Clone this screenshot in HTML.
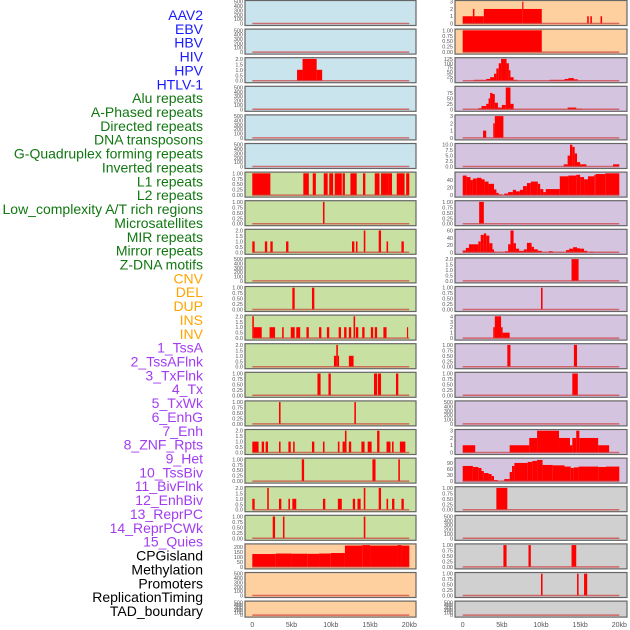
<!DOCTYPE html>
<html><head><meta charset="utf-8"><style>
body{margin:0;background:#fff;}
svg{display:block;font-family:"Liberation Sans",sans-serif;}
</style></head><body>
<svg id="c" width="630" height="630" xmlns="http://www.w3.org/2000/svg"></svg>
<script>
const labels=["AAV2","EBV","HBV","HIV","HPV","HTLV-1","Alu repeats","A-Phased repeats","Directed repeats","DNA transposons","G-Quadruplex forming repeats","Inverted repeats","L1 repeats","L2 repeats","Low_complexity A/T rich regions","Microsatellites","MIR repeats","Mirror repeats","Z-DNA motifs","CNV","DEL","DUP","INS","INV","1_TssA","2_TssAFlnk","3_TxFlnk","4_Tx","5_TxWk","6_EnhG","7_Enh","8_ZNF_Rpts","9_Het","10_TssBiv","11_BivFlnk","12_EnhBiv","13_ReprPC","14_ReprPCWk","15_Quies","CPGisland","Methylation","Promoters","ReplicationTiming","TAD_boundary"];
const labelGroups=[6,13,5,15,5];
const groupColors=["#1a1aff","#117711","#ffa500","#a23cf0","#000000"];
const xTicks=[0,5,10,15,20];
const xTickLabels=["0","5kb","10kb","15kb","20kb"];
const T500=["0","100","200","300","400","500"], TB=["0.00","0.25","0.50","0.75","1.00"], T2=["0.0","0.5","1.0","1.5","2.0"];
const B="#c9e4ec", G="#c8e0a2", O="#fecf9f", P="#d5c4e0", Y="#d0d0d0";
const leftBg=[B,B,B,B,B,B,G,G,G,G,G,G,G,G,G,G,G,G,G,O,O,O];
const rightBg=[O,O,P,P,P,P,P,P,P,P,P,P,P,P,P,P,P,Y,Y,Y,Y,Y];
const leftTicks=[T500,T500,T2,T500,T500,T500,TB,TB,T2,T500,TB,T2,T2,TB,TB,T2,TB,T2,TB,["0","50","100","150","200"],T500,T500];
const leftMax=[500,500,2,500,500,500,1,1,2,500,1,2,2,1,1,2,1,2,1,220,500,500];
const leftBars=[[],[],[[5.7,6.4,1],[6.4,8.2,2],[8.2,8.9,1]],[],[],[],
[[0,2.3,1],[6.5,7.2,1],[7.7,8.1,1],[9.1,9.6,1],[9.8,10.3,1],[10.5,11.4,1],[11.5,11.8,1],[12.5,13.3,1],[14.1,14.4,1],[15.6,16.2,1],[16.4,17.3,1],[17.3,17.8,1],[18.4,19.4,1],[19.6,20,1]],
[[9.0,9.2,1]],
[[0,0.3,1],[1.6,1.9,1],[2.3,2.6,1],[4.3,4.6,1],[12.7,13,1],[13.2,13.4,1],[14.2,14.4,2],[16.1,16.4,2],[17.1,17.3,1],[19.0,19.3,1]],
[],
[[5.1,5.4,1],[7.6,7.9,1]],
[[0,0.2,2],[0.2,1.2,1],[2.2,2.9,1],[3.8,4,1],[4.9,5.4,1],[5.6,6.1,1],[6.9,7.2,1],[8.5,8.8,1],[9.5,9.8,1],[11,11.3,1],[11.7,12,1],[12.3,12.6,1],[12.9,13.1,2],[13.2,13.5,1],[14,14.3,1],[15.1,15.4,1],[15.6,15.9,1],[16.7,17.1,1],[19.7,19.8,1]],
[[10.4,10.7,1],[10.7,10.9,2],[10.9,11.0,1],[12.3,12.9,1]],
[[8.3,8.7,1],[9.7,10,1],[15.5,15.9,1],[16.0,16.4,1],[18.3,18.6,1]],
[[3.4,3.6,1],[13.0,13.2,1]],
[[0,0.8,1],[1.2,1.5,1],[1.7,2,1],[3.4,3.6,1],[4.6,4.9,1],[5.2,5.4,1],[7.6,7.9,1],[9.0,9.2,1],[10.9,11.1,1],[11.5,11.8,1],[11.8,12,2],[12.3,12.6,1],[13.9,14.3,1],[14.7,15.2,1],[15.9,16.2,2],[17.1,17.6,1],[17.8,18.0,1],[18.8,19.5,1]],
[[6.3,6.6,1],[15.3,15.7,1],[18.6,18.8,1]],
[[0,0.3,1],[1.9,2.1,2],[3.4,3.7,1],[4.6,4.8,1],[5.1,5.6,1],[9.0,9.3,1],[10.9,11.4,1],[12.8,13.1,1],[13.4,13.8,1],[14.2,14.4,2],[16.1,16.4,2],[17.1,17.3,1],[17.8,18.1,1],[19.0,19.3,1]],
[[2.6,2.9,1],[3.9,4.1,1],[14.2,14.4,1]],
[[0,3,130],[3,5,135],[5,7,133],[7,8.5,132],[8.5,10,135],[10,11.8,140],[11.8,14,215],[14,15,220],[15,18.5,215],[18.5,19,220],[19,20,215]],
[],[]];
const rightTicks=[["0","1","2","3"],TB,["0","25","50","75","100","125"],["0","25","50","75"],["0","1","2","3"],["0.0","2.5","5.0","7.5","10.0"],["0","20","40"],TB,["0","20","40","60"],T2,TB,["0","1","2","3","4"],TB,TB,T500,["0","1","2","3"],["0","30","60","90"],TB,T500,TB,TB,T500];
const rightMax=[3,1,125,100,3,10,58,1,60,2,1,4,1,1,500,3,108,1,500,1,1,500];
const rightBars=[
[[0,1.3,1],[1.3,1.5,2],[1.5,2.7,1],[2.7,7.6,2],[7.6,7.7,3],[7.7,10.1,2],[15.9,16.1,1],[16.3,16.5,1],[17.6,17.8,1]],
[[0,10.1,1]],
[[1.4,3,5],[3,3.5,10],[3.5,4,20],[4,4.3,40],[4.3,4.6,70],[4.6,4.9,100],[4.9,5.6,125],[5.6,5.9,100],[5.9,6.1,60],[6.1,6.5,20],[6.5,7,5],[11.1,13,5],[13,13.5,10],[13.5,14.2,15],[14.2,14.7,8]],
[[2,2.4,5],[2.4,3,15],[3,3.3,25],[3.3,3.5,50],[3.5,3.8,75],[3.8,4.1,70],[4.1,4.5,30],[4.5,5,8],[5,5.5,20],[5.5,6.1,100],[6.1,6.5,25],[13.4,14.5,8],[14.5,15.2,3]],
[[2.6,3.0,1],[3.9,4.1,2],[4.1,5.2,3]],
[[12.9,13.4,1],[13.4,13.7,5],[13.7,14,10],[14,14.3,9],[14.3,14.6,6],[14.6,15,2],[15,15.8,1],[19.2,20,1]],
[[0,0.5,52],[0.5,1,48],[1,1.3,40],[1.3,1.8,44],[1.8,2.4,46],[2.4,2.8,42],[2.8,3.3,36],[3.3,4,30],[4,4.3,15],[4.3,4.6,6],[4.6,5,2],[5.3,5.8,4],[5.8,6.4,8],[6.4,6.8,14],[6.8,7.3,10],[7.3,7.7,14],[7.7,8.2,24],[8.2,8.7,32],[8.7,9.6,36],[9.6,9.9,30],[9.9,10.3,16],[10.3,10.6,8],[10.6,12.4,16],[12.4,13.5,50],[13.5,14.5,52],[14.5,15,54],[15,15.5,48],[15.5,16,42],[16,16.8,50],[16.8,17,54],[17,18.2,56],[18.2,20,58]],
[[2.1,2.7,1]],
[[0,0.4,5],[0.4,0.8,12],[0.8,2,22],[2,2.3,30],[2.3,2.7,48],[2.7,3.0,52],[3.0,3.4,46],[3.4,3.8,25],[3.8,4,8],[4,4.2,2],[5.4,5.8,3],[5.8,6.1,22],[6.1,6.5,60],[6.5,6.8,25],[6.8,7.2,10],[7.2,7.8,4],[7.8,8.2,8],[8.2,8.8,26],[8.8,9.1,15],[9.1,9.6,8],[9.6,10.1,4],[11,11.5,3],[13.2,13.6,6],[13.6,14.1,10],[14.1,14.6,14],[14.6,15,11],[15,15.5,10],[15.5,15.9,4],[16.3,16.6,2]],
[[13.9,14.8,2]],
[[10.0,10.2,1]],
[[3.9,4.1,2],[4.1,4.9,4],[4.9,5.1,2],[5.1,6,1]],
[[5.7,6.1,1],[14.2,14.6,1]],
[[14,14.7,1]],
[],
[[0,1.6,1],[6,8.5,1],[8.5,9.5,2],[9.5,12.3,3],[12.3,13.7,2],[13.7,14,1],[14,14.5,2],[14.5,14.9,3],[14.9,17.3,2],[17.3,18.7,1]],
[[0,1.3,75],[1.3,2,70],[2,2.4,65],[2.4,2.7,50],[2.7,3.3,40],[3.3,3.7,35],[3.7,4,25],[4,4.5,5],[5.3,6,10],[6,6.3,45],[6.3,6.6,75],[6.6,8.3,90],[8.3,8.9,95],[8.9,9.5,100],[9.5,10.2,105],[10.2,11.5,80],[11.5,13,78],[13,13.8,72],[13.8,14.2,65],[14.2,14.8,68],[14.8,17.3,72],[17.3,18.3,70],[18.3,20,72]],
[[4.3,5.7,1]],
[],
[[5.2,5.6,1],[8.4,8.7,1],[13.9,14.5,1]],
[[10.0,10.2,1],[14.6,14.8,1],[15.5,15.9,1]],
[]];

const NS="http://www.w3.org/2000/svg";
const svg=document.getElementById('c');
function el(tag,attrs,parent){const e=document.createElementNS(NS,tag);for(const k in attrs)e.setAttribute(k,attrs[k]);(parent||svg).appendChild(e);return e;}

let li=0;
labelGroups.forEach((n,g)=>{for(let k=0;k<n;k++){
  const t=el('text',{x:203,y:15+li*13.86+5,'text-anchor':'end','font-size':14,fill:groupColors[g]});
  t.textContent=labels[li];
  
  
  li++;}});

const cols=[{rx:245,rw:171,x0:252.3,x1:409.3,bg:leftBg,ticks:leftTicks,max:leftMax,bars:leftBars,name:'left'},
            {rx:455,rw:172,x0:462.7,x1:619.3,bg:rightBg,ticks:rightTicks,max:rightMax,bars:rightBars,name:'right'}];
for(let i=0;i<22;i++){
  const top=0.5+i*28.6, h=(i==21)?16:25;
  cols.forEach(c=>{
    const g=el('g',{});
    
    
    el('rect',{x:c.rx,y:top,width:c.rw,height:h,fill:c.bg[i],stroke:'#666','stroke-width':1.2},g);
    const yb=top+h-2, yt=top+1.2, ymax=c.max[i];
    const X=v=>c.x0+(c.x1-c.x0)*v/20;
    const Yf=v=>yb-(yb-yt)*v/ymax;
    c.bars[i].forEach(b=>{
      const r=el('rect',{x:X(b[0]),y:Yf(b[2]),width:Math.max(X(b[1])-X(b[0]),1.2),height:yb-Yf(b[2]),fill:'#ff0000'},g);
      
      
    });
    const bl=el('line',{x1:X(0),x2:X(20),y1:yb,y2:yb,stroke:'rgba(205,60,60,0.7)','stroke-width':1.5},g);
    
    
    c.ticks[i].forEach(lab=>{
      const v=parseFloat(lab);
      const t=el('text',{x:c.rx-2,y:Yf(v)+2,'text-anchor':'end','font-size':5.5,fill:'#555'},g);
      t.textContent=lab;
      
      
    });
  });
}
cols.forEach(c=>{
  xTicks.forEach((v,j)=>{
    const t=el('text',{x:c.x0+(c.x1-c.x0)*v/20,y:627,'text-anchor':'middle','font-size':7,fill:'#555'});
    t.textContent=xTickLabels[j];
    
    
  });
});
</script>
</body></html>
